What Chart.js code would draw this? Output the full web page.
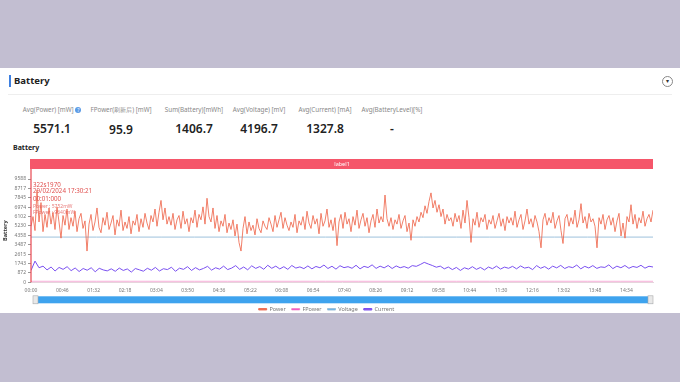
<!DOCTYPE html>
<html>
<head>
<meta charset="utf-8">
<script src="https://cdn.jsdelivr.net/npm/chart.js@4"></script>
<style>
  body { margin: 0; width: 680px; height: 382px; background: #c2bed1; font-family: "Noto Sans", sans-serif; overflow: hidden; }
  .panel { position: absolute; left: 0; top: 68px; width: 680px; height: 245px; background: #fff; }
  .title { position: absolute; left: 14px; top: 74px; font-size: 9.5px; font-weight: 700; color: #222; }
  .title-bar { position: absolute; left: 9px; top: 75px; width: 2px; height: 12px; background: #3d7fe0; }
  .sep { position: absolute; left: 8px; top: 94px; width: 664px; height: 1px; background: #eee; }
  .toggle { position: absolute; left: 662px; top: 76px; width: 9px; height: 9px; border: 1px solid #888; border-radius: 50%; font-size: 6px; line-height: 9px; text-align: center; color: #333; }
  .stat { position: absolute; width: 90px; text-align: center; }
  .stat .lbl { font-size: 6.3px; color: #888; white-space: nowrap; }
  .stat .val { font-size: 12px; font-weight: 600; color: #222; margin-top: 6px; }
  .q { display: inline-block; width: 6px; height: 6px; border-radius: 50%; background: #5b9be6; color: #fff; font-size: 5px; line-height: 6px; text-align: center; vertical-align: middle; }
  .sub { position: absolute; left: 13px; top: 143px; font-size: 7px; font-weight: 700; color: #222; }
  #wrap { position: absolute; left: 0; top: 150px; width: 680px; height: 172px; }
</style>
</head>
<body>
<div class="panel"></div>
<div class="title-bar"></div>
<div class="title">Battery</div>
<div class="toggle">▾</div>
<div class="sep"></div>
<div id="stats"></div>
<div class="sub">Battery</div>
<div id="wrap"><canvas id="batteryChart"></canvas></div>
<script>
// summary cards
const statLabels = ["Avg(Power) [mW]", "FPower(刷新后) [mW]", "Sum(Battery)[mWh]", "Avg(Voltage) [mV]", "Avg(Current) [mA]", "Avg(BatteryLevel)[%]"];
const statValues = ["5571.1", "95.9", "1406.7", "4196.7", "1327.8", "-"];
const statCenters = [52, 121, 194, 259, 325, 392];

// series names / colours
const seriesNames = ["Power", "FPower", "Voltage", "Current"];
const bandLabel = "label1";
const cursorText = ["322s1970", "29/02/2024 17:30:21", "00:01:000", "Power : 5752mW", "FPower : 9640mW"];

// y axis tick labels
const yTickLabels = ["0", "872", "1743", "2615", "3487", "4358", "5230", "6102", "6974", "7845", "8717", "9588"];
const yMax = 9588;
// x axis: minutes, ticks every 46 min
const totalMinutes = 913;
const tickStep = 46;

// Power samples (mW)
const powerValues = [
  5200, 6100, 4800, 8550, 5600, 7400, 4700, 6300, 5100, 6900,
  5400, 6500, 4900, 7000, 5600, 4100, 6200, 5300, 6800, 4900,
  6000, 5200, 6600, 4700, 5900, 6400, 5000, 5700, 2900, 5400,
  6300, 4800, 5600, 6900, 5100, 4600, 6000, 5300, 6500, 4900,
  5500, 6200, 4400, 5800, 5200, 6700, 4800, 5600, 5000, 6100,
  4500, 5700, 5300, 6300, 4700, 5900, 5100, 6400, 5500, 4900,
  6200, 5600, 6800, 5200, 6500, 7600, 5800, 6900, 5400, 6100,
  5300, 6400, 4900, 5800, 6200, 5000, 6600, 5400, 5900, 4700,
  6000, 5500, 6700, 5100, 6300, 5800, 7000, 5400, 7800, 6100,
  5600, 6900, 5000, 6200, 4700, 5700, 5200, 6300, 4600, 5500,
  4900, 5800, 4300, 5400, 3700, 2900, 5000, 6100, 4500, 5600,
  4800, 5300, 4400, 5900, 5000, 4600, 5700, 5200, 4900, 6000,
  5400, 4700, 6200, 5100, 5800, 6500, 5000, 6000, 5300, 4800,
  5600, 5100, 6300, 4600, 5700, 5300, 6100, 4900, 6600, 5500,
  5000, 6200, 5400, 5900, 4500, 6400, 5200, 5700, 6800, 5100,
  5800, 4800, 6000, 3400, 5600, 6300, 5000, 6500, 5400, 5900,
  4700, 6100, 5300, 6700, 5000, 5800, 6400, 5200, 6000, 4600,
  5700, 6300, 5100, 6800, 5500, 6100, 5600, 8100, 5900, 5200,
  6000, 4900, 5800, 5400, 6300, 5000, 5700, 6200, 4700, 5500,
  3900, 5800, 5200, 6100, 5600, 6500, 6000, 7100, 6400, 7500,
  8300, 6900, 7600, 6500, 7200, 6100, 6800, 5400, 6300, 5700,
  6000, 5200, 6400, 5600, 6200, 5000, 6700, 5500, 7600, 6000,
  3700, 5900, 5300, 6500, 5100, 6000, 5600, 6300, 4900, 5800,
  5400, 6200, 5000, 5700, 6400, 5200, 5900, 4800, 6100, 5500,
  6000, 5300, 6600, 5100, 5800, 6300, 4900, 5700, 6800, 5400,
  5900, 5100, 6200, 5600, 4700, 3200, 5800, 6400, 5300, 6000,
  5500, 6500, 5000, 5700, 6200, 4800, 3600, 5900, 6300, 5200,
  6000, 5400, 6700, 5100, 5800, 7300, 5500, 6100, 5000, 6400,
  5600, 5900, 5200, 3200, 6000, 5400, 6300, 4900, 5800, 6200,
  5300, 6000, 4700, 5700, 6400, 4300, 5500, 4100, 6100, 5600,
  7200, 5400, 6300, 5000, 6000, 5500, 6600, 5200, 5900, 6300, 5600, 6700
];

// Current samples (mA)
const currentValues = [
  1100, 1970, 1350, 1500, 1150, 1420, 1050, 1380, 1200, 1450,
  1080, 1330, 1000, 1280, 1120, 1350, 980, 1300, 1150, 1060,
  1250, 1020, 1320, 1100, 1240, 950, 1280, 1160, 1030, 1300,
  1120, 1380, 1050, 1260, 1180, 1400, 1020, 1310, 1200, 1450,
  1100, 1360, 1150, 1290, 1480, 1130, 1350, 1220, 1500, 1180,
  1320, 1550, 1200, 1420, 1160, 1530, 1290, 1460, 1210, 1580,
  1300, 1500, 1240, 1450, 1200, 1560, 1320, 1430, 1270, 1520,
  1250, 1470, 1350, 1600, 1280, 1490, 1220, 1540, 1360, 1450,
  1300, 1580, 1250, 1480, 1370, 1620, 1290, 1500, 1340, 1560,
  1280, 1520, 1350, 1460, 1310, 1550, 1480, 1650, 1850, 1700,
  1560, 1400, 1500, 1250, 1420, 1180, 1380, 1100, 1350, 1220,
  1450, 1200, 1380, 1150, 1420, 1260, 1500, 1230, 1410, 1300,
  1480, 1250, 1520, 1320, 1400, 1180, 1550, 1300, 1460, 1220,
  1500, 1340, 1570, 1280, 1450, 1360, 1600, 1250, 1480, 1330,
  1550, 1290, 1430, 1380, 1620, 1270, 1500, 1350, 1560, 1300,
  1470, 1380, 1580, 1310, 1490, 1420
];

// Voltage (mV) and FPower (mW), nearly flat
const voltageValues = [4198, 4197, 4197, 4196, 4197, 4197, 4196, 4197, 4198, 4197, 4196, 4197, 4197, 4196, 4197, 4197, 4196, 4197, 4197, 4197];
const fpowerValues = [96, 95, 96, 97, 95, 96, 96, 95, 96, 97, 96, 95, 96, 96, 95, 96, 97, 96, 95, 96];

// build summary cards
const statsEl = document.getElementById("stats");
statLabels.forEach((l, i) => {
  const d = document.createElement("div");
  d.className = "stat";
  d.style.left = statCenters[i] - 45 + "px";
  d.style.top = "105px";
  d.innerHTML =
    '<div class="lbl">' + l + (i === 0 ? ' <span class="q">?</span>' : "") + "</div>" +
    '<div class="val">' + statValues[i] + "</div>";
  statsEl.appendChild(d);
});

function toPoints(values) {
  const n = values.length;
  return values.map((v, i) => ({ x: (i / (n - 1)) * totalMinutes, y: v }));
}

function fmtTime(m) {
  const h = Math.floor(m / 60);
  const mm = Math.round(m % 60);
  return String(h).padStart(2, "0") + ":" + String(mm).padStart(2, "0");
}

const overlay = {
  id: "overlay",
  afterDraw(chart) {
    const { ctx, chartArea: a } = chart;
    ctx.save();
    // label band above plot
    ctx.fillStyle = "#f5566a";
    ctx.fillRect(a.left - 1, a.top - 20, a.right - a.left + 1, 10);
    ctx.fillStyle = "#fff";
    ctx.font = '5.5px "Noto Sans"';
    ctx.textAlign = "center";
    ctx.textBaseline = "middle";
    ctx.fillText(bandLabel, (a.left + a.right) / 2, a.top - 15);
    // cursor line
    ctx.strokeStyle = "#e8474f";
    ctx.lineWidth = 1.2;
    ctx.beginPath();
    ctx.moveTo(a.left, a.top - 10);
    ctx.lineTo(a.left, a.bottom);
    ctx.stroke();
    // cursor text
    ctx.textAlign = "left";
    ctx.fillStyle = "#e0504f";
    ctx.font = '6.2px "Noto Sans"';
    ctx.fillText(cursorText[0], a.left + 2, a.top + 6);
    ctx.fillText(cursorText[1], a.left + 2, a.top + 12);
    ctx.fillText(cursorText[2], a.left + 2, a.top + 20);
    ctx.font = '5px "Noto Sans"';
    ctx.fillStyle = "rgba(224,80,79,0.75)";
    ctx.fillText(cursorText[3], a.left + 2, a.top + 28);
    ctx.fillText(cursorText[4], a.left + 2, a.top + 34);
    // data zoom slider
    const sy = a.bottom + 14;
    ctx.fillStyle = "#3ea3ee";
    ctx.fillRect(a.left + 2, sy, a.right - a.left - 2, 7);
    ctx.fillStyle = "#e8e8e8";
    ctx.strokeStyle = "#aaa";
    ctx.lineWidth = 0.6;
    ctx.fillRect(a.left + 2, sy - 0.5, 5, 8);
    ctx.strokeRect(a.left + 2, sy - 0.5, 5, 8);
    ctx.fillRect(a.right - 5, sy - 0.5, 5, 8);
    ctx.strokeRect(a.right - 5, sy - 0.5, 5, 8);
    ctx.restore();
  },
};

const ctx = document.getElementById("batteryChart").getContext("2d");
new Chart(ctx, {
  type: "line",
  data: {
    datasets: [
      {
        label: seriesNames[0],
        data: toPoints(powerValues),
        borderColor: "rgba(238,98,70,0.9)",
        backgroundColor: "#f07858",
        borderWidth: 0.9,
        pointRadius: 0,
        tension: 0,
      },
      {
        label: seriesNames[1],
        data: toPoints(fpowerValues),
        borderColor: "rgba(240,120,190,0.6)",
        backgroundColor: "#f050c8",
        borderWidth: 1,
        pointRadius: 0,
      },
      {
        label: seriesNames[2],
        data: toPoints(voltageValues),
        borderColor: "#9dc2dc",
        backgroundColor: "#4aa8ec",
        borderWidth: 1,
        pointRadius: 0,
      },
      {
        label: seriesNames[3],
        data: toPoints(currentValues),
        borderColor: "#7a50f0",
        backgroundColor: "#9a5ce0",
        borderWidth: 1,
        pointRadius: 0,
      },
    ],
  },
  options: {
    responsive: true,
    maintainAspectRatio: false,
    animation: false,
    layout: { padding: { top: 29, right: 27, left: 0, bottom: 0 } },
    plugins: {
      tooltip: { enabled: false },
      legend: {
        position: "bottom",
        labels: {
          boxWidth: 8,
          boxHeight: 1.5,
          padding: 6,
          color: "#777",
          font: { size: 5.5, family: "Noto Sans" },
        },
      },
    },
    scales: {
      x: {
        type: "linear",
        min: 0,
        max: totalMinutes,
        grid: { display: false, drawTicks: false },
        border: { display: true, color: "#e6d4dc" },
        ticks: {
          stepSize: tickStep,
          includeBounds: false,
          autoSkip: false,
          maxRotation: 0,
          padding: 5,
          color: "#777",
          font: { size: 5, family: "Noto Sans" },
          callback: (v) => fmtTime(v),
        },
        title: { display: true, text: "", font: { size: 1 }, padding: { top: 1, bottom: 0 } },
      },
      y: {
        min: 0,
        max: yMax,
        afterFit(scale) {
          scale.width = 31;
        },
        grid: { drawOnChartArea: false, drawTicks: true, tickLength: 3, color: "#999" },
        border: { display: false },
        ticks: {
          stepSize: yMax / 11,
          includeBounds: false,
          autoSkip: false,
          padding: 2,
          color: "#777",
          font: { size: 5, family: "Noto Sans" },
          callback: (v, i) => yTickLabels[i],
        },
        title: {
          display: true,
          text: "Battery",
          color: "#333",
          padding: { top: 2, bottom: 0 },
          font: { size: 5.5, weight: "bold", family: "Noto Sans" },
        },
      },
    },
  },
  plugins: [overlay],
});
</script>
</body>
</html>
